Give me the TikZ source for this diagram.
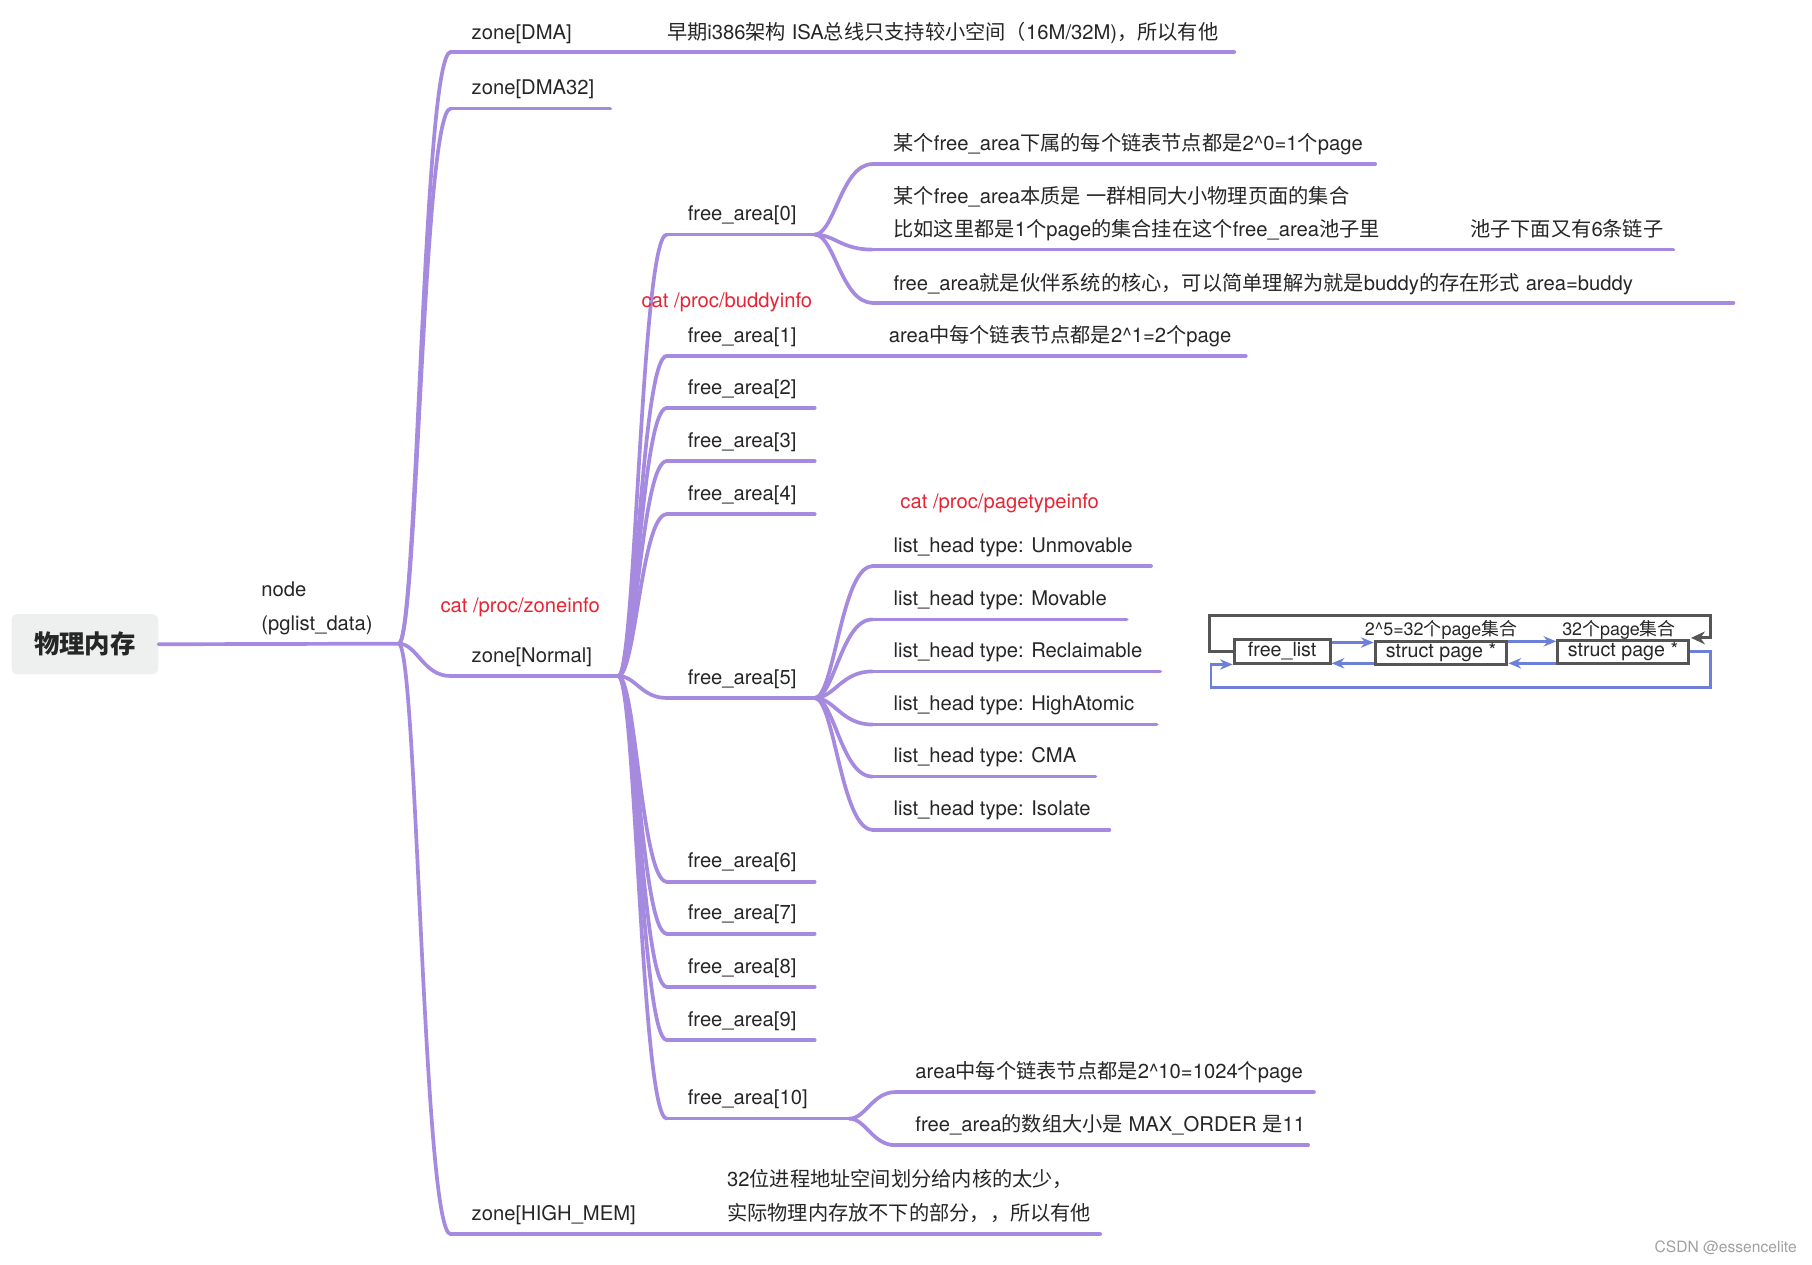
\documentclass[tikz,border=0pt]{standalone}
\usepackage{fontspec}
\setmainfont{TeX Gyre Heros}
\newfontfamily\cjkfont{Noto Sans CJK SC}
\usetikzlibrary{arrows.meta,calc}
\XeTeXinterchartokenstate=1
\newXeTeXintercharclass\CJKcls
\makeatletter
\def\setcjkrange#1#2{\count@=#1\relax\loop\XeTeXcharclass\count@=\CJKcls\ifnum\count@<#2\advance\count@\@ne\repeat}
\makeatother
\setcjkrange{"3000}{"303F}
\setcjkrange{"4E00}{"9FFF}
\setcjkrange{"FF00}{"FFEF}
\XeTeXinterchartoks 0 \CJKcls = {\begingroup\cjkfont}
\XeTeXinterchartoks 4095 \CJKcls = {\begingroup\cjkfont}
\XeTeXinterchartoks \CJKcls 0 = {\endgroup}
\XeTeXinterchartoks \CJKcls 4095 = {\endgroup}
\definecolor{purp}{RGB}{165,138,223}
\definecolor{txt}{RGB}{38,38,38}
\definecolor{redc}{RGB}{232,36,52}
\definecolor{gry}{RGB}{85,85,85}
\definecolor{blu}{RGB}{108,128,218}
\definecolor{rootbg}{RGB}{238,240,240}
\definecolor{wmc}{RGB}{160,160,160}
\newcommand\fsn{\fontsize{17.5}{21}\selectfont}
\newcommand\fsbox{\fontsize{17}{20}\selectfont}
\newcommand\fssm{\fontsize{15.5}{18}\selectfont}
\newcommand\fsroot{\fontsize{22}{26}\selectfont\bfseries}
\begin{document}
\begin{tikzpicture}[x=1pt,y=-1pt,
  br/.style={draw=purp,line width=3.2pt,line cap=round},
  lbl/.style={anchor=base west,inner sep=0pt,text=txt,font=\fsn},
  redlbl/.style={lbl,text=redc},
  bx/.style={draw=gry,line width=2.6pt,inner sep=0pt,text=txt,font=\fsbox},
  gline/.style={draw=gry,line width=2.6pt},
  bline/.style={draw=blu,line width=2.4pt},
  barrow/.style={bline,-{Stealth[length=11pt,width=9pt]}},
  garrow/.style={gline,-{Stealth[length=12pt,width=11pt]}}]
\useasboundingbox (0,0) rectangle (1568,1093.8);
% ---------- root ----------
\node[fill=rootbg,rounded corners=5pt,minimum width=127pt,minimum height=52pt,inner sep=0pt,font=\fsroot,text=txt] (root) at (73.5,557.5) {物理内存};
\coordinate (b1) at (345,557);
\draw[br] (root.east) -- (b1);
\node[lbl] (nodeA) at (226,516) {node};
\node[lbl] (nodeB) at (226,546) {(pglist\_data)};
% ---------- zones ----------
\coordinate (zDMAs) at (390,45);   \coordinate (zDMAe) at (1068,45);
\coordinate (zD32s) at (390,94);   \coordinate (zD32e) at (528,94);
\coordinate (zNs) at (390,585);    \coordinate (zNe) at (535,585);
\coordinate (zHs) at (390,1068);   \coordinate (zHe) at (952,1068);
\foreach \c in {zDMA,zD32,zN,zH}{
  \draw[br] (b1) .. controls +(16,0) and +(-24,0) .. (\c s);
  \draw[br] (\c s) -- (\c e);
}
\node[lbl] (tDMA) at (408,34) {zone[DMA]};
\node[lbl] (tDMAx) at (577,34) {早期i386架构 ISA总线只支持较小空间（16M/32M)，所以有他};
\node[lbl] (tD32) at (408,82) {zone[DMA32]};
\node[redlbl] (rZone) at (381,530) {cat /proc/zoneinfo};
\node[lbl] (tN) at (408,573) {zone[Normal]};
\node[lbl] (tH) at (408,1056) {zone[HIGH\_MEM]};
\node[lbl] (tHx1) at (629,1027) {32位进程地址空间划分给内核的太少，};
\node[lbl] (tHx2) at (629,1056) {实际物理内存放不下的部分，，所以有他};
% ---------- free areas ----------
\foreach \i/\y/\e in {0/203/705,1/308/1078,2/353/705,3/399/705,4/445/705,5/604/705,6/763/705,7/808/705,8/854/705,9/900/705,10/968/735}{
  \coordinate (fa\i s) at (577,\y);
  \coordinate (fa\i e) at (\e,\y);
  \draw[br] (zNe) .. controls +(15,0) and +(-22,0) .. (fa\i s);
  \draw[br] (fa\i s) -- (fa\i e);
  \node[lbl] (tfa\i) at (595,\y-12) {free\_area[\i]};
}
\node[redlbl] (rBuddy) at (555,266) {cat /proc/buddyinfo};
\node[lbl] (tfa1x) at (769,296) {area中每个链表节点都是2\textasciicircum1=2个page};
\node[redlbl] (rPage) at (779,440) {cat /proc/pagetypeinfo};
% ---------- free_area[0] children ----------
\coordinate (c01s) at (755,142); \coordinate (c01e) at (1190,142);
\coordinate (c02s) at (755,216); \coordinate (c02e) at (1448,216);
\coordinate (c03s) at (755,262); \coordinate (c03e) at (1500,262);
\foreach \c in {c01,c02,c03}{
  \draw[br] (fa0e) .. controls +(17,0) and +(-27,0) .. (\c s);
  \draw[br] (\c s) -- (\c e);
}
\node[lbl] (t01) at (773,130) {某个free\_area下属的每个链表节点都是2\textasciicircum0=1个page};
\node[lbl] (t02a) at (773,176) {某个free\_area本质是 一群相同大小物理页面的集合};
\node[lbl] (t02b) at (773,205) {比如这里都是1个page的集合挂在这个free\_area池子里};
\node[lbl] (t02c) at (1272,205) {池子下面又有6条链子};
\node[lbl] (t03) at (773,251) {free\_area就是伙伴系统的核心，可以简单理解为就是buddy的存在形式 area=buddy};
% ---------- free_area[5] children ----------
\foreach \k/\y/\e/\n in {1/490/996/Unmovable,2/536/975/Movable,3/581/1004/Reclaimable,4/627/1001/HighAtomic,5/672/948/CMA,6/718/960/Isolate}{
  \coordinate (lh\k s) at (755,\y);
  \coordinate (lh\k e) at (\e,\y);
  \draw[br] (fa5e) .. controls +(17,0) and +(-27,0) .. (lh\k s);
  \draw[br] (lh\k s) -- (lh\k e);
  \node[lbl] (tlh\k) at (773,\y-12) {list\_head type: \n};
}
% ---------- free_area[10] children ----------
\coordinate (c101s) at (775,945); \coordinate (c101e) at (1137,945);
\coordinate (c102s) at (775,991); \coordinate (c102e) at (1132,991);
\foreach \c in {c101,c102}{
  \draw[br] (fa10e) .. controls +(14,0) and +(-20,0) .. (\c s);
  \draw[br] (\c s) -- (\c e);
}
\node[lbl] (t101) at (792,933) {area中每个链表节点都是2\textasciicircum10=1024个page};
\node[lbl] (t102) at (792,979) {free\_area的数组大小是 MAX\_ORDER 是11};
% ---------- linked list sketch ----------
\node[bx,minimum width=83pt,minimum height=21pt] (fl) at (1109.5,563.5) {free\_list};
\node[bx,minimum width=114pt,minimum height=20pt] (sp1) at (1247,565) {struct page *};
\node[bx,minimum width=113pt,minimum height=20pt] (sp2) at (1404.5,564) {struct page *};
\node[inner sep=0pt,font=\fssm,text=txt] (l1) at (1247,545) {2\textasciicircum5=32个page集合};
\node[inner sep=0pt,font=\fssm,text=txt] (l2) at (1401,545) {32个page集合};
\draw[garrow] (fl.west) -- ++(-20,0) |- (1480,533) |- ($(sp2.east)+(1,-12)$);
\draw[barrow] ($(fl.east)+(0,-7.5)$) -- ($(sp1.west)+(0,-9)$);
\draw[barrow] ($(sp1.west)+(0,9)$) -- ($(fl.east)+(0,10.5)$);
\draw[barrow] ($(sp1.east)+(0,-10)$) -- ($(sp2.west)+(0,-9)$);
\draw[barrow] ($(sp2.west)+(0,10)$) -- ($(sp1.east)+(0,9)$);
\draw[barrow] (sp2.east) -- (1480,564) |- (1048,595) |- ($(fl.west)+(0,11.5)$);
% ---------- watermark ----------
\node[anchor=east,inner sep=0pt,font=\fontsize{13.5}{16}\selectfont,text=wmc] (wm) at (1555,1080) {CSDN @essencelite};
\end{tikzpicture}
\end{document}
